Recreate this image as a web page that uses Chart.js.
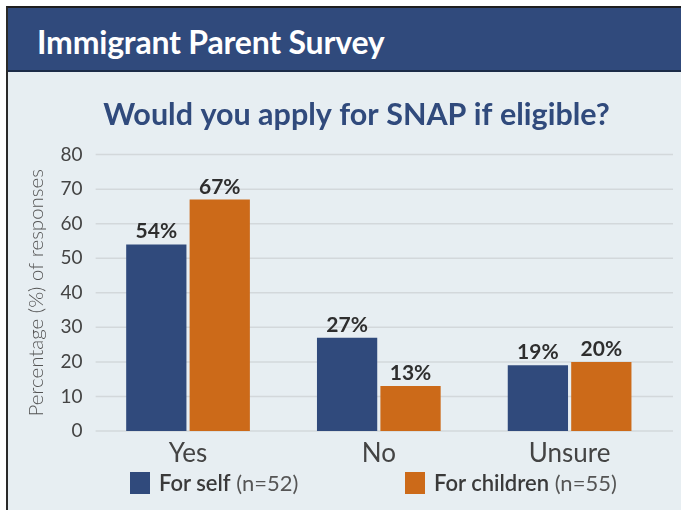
<!DOCTYPE html>
<html>
<head>
<meta charset="utf-8">
<script src="https://cdn.jsdelivr.net/npm/chart.js@4"></script>
<style>
  body { margin: 0; background: #fff; width: 681px; height: 510px; overflow: hidden; }
  .frame {
    position: absolute; left: 6px; top: 6px; width: 675px; height: 504px;
    border-left: 2px solid #2a2a2a; border-top: 2px solid #1e1e1e;
    background: #e7eef2; box-sizing: border-box;
  }
  .header {
    height: 64px; background: #304a7c; border-bottom: 2px solid #1c2b48;
    box-sizing: border-box; color: #fff;
    font: bold 32px Lato, sans-serif; letter-spacing: -0.2px;
    padding: 14px 0 0 29px;
  }
  .chart-box { position: absolute; left: 0; top: 64px; width: 673px; height: 438px; }
  .legend-item {
    position: absolute; top: 464px; height: 22px;
    font: 22px Lato, sans-serif; color: #3a3a3a; white-space: nowrap;
  }
  .legend-item i { position: absolute; left: 0; top: 0; width: 20px; height: 22px; }
  .legend-item span { position: absolute; left: 29px; top: -2px; line-height: 26px; }
  .legend-item b { font-weight: 600; }
  .legend-item em { font-style: normal; color: #555; font-weight: 400; }
</style>
</head>
<body>
<div class="frame">
  <div class="header">Immigrant Parent Survey</div>
  <div class="chart-box"><canvas id="chart" width="673" height="438"></canvas></div>
  <div id="legend"></div>
</div>
<script>
// ---------- Data ----------
const categories = ['Yes', 'No', 'Unsure'];
const selfValues = [54, 27, 19];
const childValues = [67, 13, 20];
const seriesNames = ['For self', 'For children'];
const seriesCounts = ['(n=52)', '(n=55)'];
const yTicks = [0, 10, 20, 30, 40, 50, 60, 70, 80];

const BLUE = '#304a7c';
const ORANGE = '#cc6a19';
const seriesColors = [BLUE, ORANGE];

// ---------- Plugins ----------

// horizontal grid lines run a little past the plot on the right in the original
const wideGrid = {
    id: 'wideGrid',
    beforeDatasetsDraw(chart) {
        const ctx = chart.ctx;
        const y = chart.scales.y;
        ctx.save();
        ctx.strokeStyle = '#d3d8db';
        ctx.lineWidth = 1.5;
        y.ticks.forEach(t => {
            const py = y.getPixelForValue(t.value);
            ctx.beginPath();
            ctx.moveTo(chart.chartArea.left + 3, py);
            ctx.lineTo(chart.chartArea.right + 8, py);
            ctx.stroke();
        });
        ctx.restore();
    }
};

const barLabels = {
    id: 'barLabels',
    afterDatasetsDraw(chart) {
        const ctx = chart.ctx;
        ctx.save();
        ctx.font = 'bold 21px Lato, sans-serif';
        ctx.fillStyle = '#2e2e2e';
        ctx.textAlign = 'center';
        ctx.textBaseline = 'alphabetic';
        chart.data.datasets.forEach((ds, i) => {
            chart.getDatasetMeta(i).data.forEach((bar, j) => {
                ctx.fillText(ds.data[j] + '%', bar.x, bar.y - 6);
            });
        });
        ctx.restore();
    }
};

// title sits a bit right of the canvas centre in the original
const titleShift = {
    id: 'titleShift',
    afterLayout(chart) {
        chart.titleBlock.left += 13;
        chart.titleBlock.right += 13;
    }
};

// ---------- Chart ----------

const chart = new Chart(document.getElementById('chart'), {
    type: 'bar',
    data: {
        labels: categories,
        datasets: seriesNames.map((name, i) => ({
            label: name + ' ' + seriesCounts[i],
            data: i === 0 ? selfValues : childValues,
            backgroundColor: seriesColors[i]
        }))
    },
    options: {
        responsive: false,
        animation: false,
        devicePixelRatio: 1,
        categoryPercentage: 0.665,
        barPercentage: 0.95,
        layout: { padding: { left: 14, right: 16, top: 0, bottom: 41 } },
        plugins: {
            title: {
                display: true,
                text: 'Would you apply for SNAP if eligible?',
                color: BLUE,
                font: { family: 'Lato, sans-serif', size: 30.5, weight: 'bold' },
                padding: { top: 25, bottom: 21 }
            },
            legend: { display: false },
            tooltip: { enabled: false }
        },
        scales: {
            x: {
                grid: { display: false },
                border: { display: false },
                ticks: {
                    color: '#444',
                    font: { family: 'Lato, sans-serif', size: 26, lineHeight: 1 },
                    padding: 2
                }
            },
            y: {
                min: yTicks[0],
                max: yTicks[yTicks.length - 1],
                afterBuildTicks: axis => { axis.ticks = yTicks.map(v => ({ value: v })); },
                border: { display: false },
                grid: { display: false, drawTicks: false },
                ticks: {
                    color: '#444',
                    padding: 10,
                    font: { family: 'Lato, sans-serif', size: 19 }
                },
                title: {
                    display: true,
                    text: 'Percentage (%) of responses',
                    color: '#555',
                    padding: 2,
                    font: { family: 'Lato, sans-serif', size: 20.5, weight: '300' }
                }
            }
        }
    },
    plugins: [wideGrid, barLabels, titleShift]
});

// ---------- Legend ----------
const legendLefts = [122, 397];
const legend = document.getElementById('legend');
seriesNames.forEach((name, i) => {
    const item = document.createElement('div');
    item.className = 'legend-item';
    item.style.left = legendLefts[i] + 'px';
    item.innerHTML = `<i style="background:${chart.data.datasets[i].backgroundColor}"></i>` +
        `<span><b>${name}</b> <em>${seriesCounts[i]}</em></span>`;
    legend.appendChild(item);
});
</script>
</body>
</html>
